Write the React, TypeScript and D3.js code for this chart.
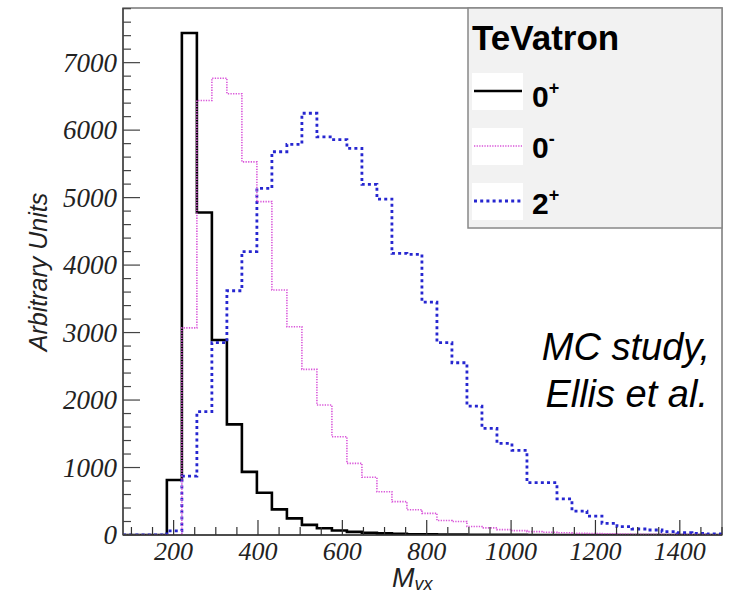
import React from "react";
import * as d3 from "d3";

// ---- data ----
const binStart = 184;
const binEnd = 1500;
const nBins = 37;

const zeroPlus = [815, 7440, 4780, 2890, 1640, 935, 627, 380, 247, 150, 99, 66, 46, 33, 24, 17, 12, 9, 7, 5, 4, 3, 2, 2, 1, 1, 1, 1, 0, 0, 0, 0, 0, 0, 0, 0, 0];
const zeroMinus = [0, 3070, 6440, 6770, 6540, 5530, 4940, 3630, 3086, 2455, 1926, 1456, 1062, 855, 642, 494, 375, 321, 215, 200, 125, 105, 80, 65, 50, 40, 33, 27, 22, 18, 15, 12, 10, 8, 6, 5, 4];
const twoPlus = [60, 874, 1827, 2850, 3620, 4200, 5136, 5680, 5790, 6250, 5900, 5860, 5730, 5195, 4978, 4173, 4160, 3450, 2850, 2553, 1911, 1580, 1358, 1255, 775, 775, 535, 355, 280, 173, 123, 89, 74, 49, 35, 25, 15];

const xTicks = [200, 400, 600, 800, 1000, 1200, 1400];
const yTicks = [0, 1000, 2000, 3000, 4000, 5000, 6000, 7000];
const xDomain = [80, 1500];
const yDomain = [0, 7810];

const seriesNames = ["0", "0", "2"];
const seriesSup = ["+", "-", "+"];
const legendTitle = "TeVatron";

export default function App() {
  const W = 729, H = 596;
  const left = 123, right = 722, top = 8, bottom = 535;
  const x = d3.scaleLinear().domain(xDomain).range([left, right]);
  const y = d3.scaleLinear().domain(yDomain).range([bottom, top]);
  const bw = (binEnd - binStart) / nBins;

  const stepPath = (vals: number[]) => {
    const pts: [number, number][] = [[xDomain[0], 0], [binStart, 0]];
    vals.forEach((v, i) => {
      pts.push([binStart + i * bw, v]);
      pts.push([binStart + (i + 1) * bw, v]);
    });
    const line = d3.line<[number, number]>().x((d) => x(d[0])).y((d) => y(d[1]));
    return line(pts) || "";
  };

  const xMinor = d3.range(100, 1501, 50);
  const yMinor = d3.range(0, 7801, 200);

  const serif = "'Liberation Serif', 'Times New Roman', serif";
  const sans = "'Liberation Sans', Arial, sans-serif";

  const legendRows = [
    { y: 91, stroke: "#000", width: 2.6, dash: undefined as string | undefined, base: 107 },
    { y: 146, stroke: "#d955d9", width: 1.6, dash: "1.3,1.3", base: 158 },
    { y: 201, stroke: "#2626d0", width: 2.8, dash: "3,3.2", base: 214 },
  ];

  return (
    <svg width={W} height={H} style={{ position: "absolute", left: 0, top: 0, background: "#fff" }}>
      <defs>
        <clipPath id="plotClip">
          <rect x={left} y={top} width={right - left} height={bottom - top} />
        </clipPath>
      </defs>
      <rect x={0} y={0} width={W} height={H} fill="#fff" />

      {/* frame */}
      <rect x={left} y={top} width={right - left} height={bottom - top} fill="none" stroke="#777" strokeWidth={1.5} />

      {/* histograms */}
      <g clipPath="url(#plotClip)">
        <path d={stepPath(zeroPlus)} fill="none" stroke="#000" strokeWidth={2.6} />
        <path d={stepPath(twoPlus)} fill="none" stroke="#2626d0" strokeWidth={2.8} strokeDasharray="3,3.2" />
        <path d={stepPath(zeroMinus)} fill="none" stroke="#d955d9" strokeWidth={1.6} strokeDasharray="1.3,1.3" />
      </g>

      {/* axes */}
      <line x1={left} x2={right} y1={bottom} y2={bottom} stroke="#333" strokeWidth={1.5} />
      <line x1={left} x2={left} y1={top} y2={bottom} stroke="#444" strokeWidth={1.5} />

      {xMinor.map((v) => (
        <line key={"xm" + v} x1={x(v)} x2={x(v)} y1={bottom} y2={bottom - (v % 200 === 0 ? 15 : 8)} stroke="#333" strokeWidth={1.2} />
      ))}
      {yMinor.map((v) => (
        <line key={"ym" + v} x1={left} x2={left + (v % 1000 === 0 ? 17 : 8)} y1={y(v)} y2={y(v)} stroke="#444" strokeWidth={1.2} />
      ))}

      {xTicks.map((v) => (
        <text key={"xt" + v} x={x(v)} y={560} textAnchor="middle" fontFamily={serif} fontStyle="italic" fontSize={26} fill="#222">
          {v}
        </text>
      ))}
      {yTicks.map((v) => (
        <text key={"yt" + v} x={117} y={y(v) + 9} textAnchor="end" fontFamily={serif} fontStyle="italic" fontSize={27} fill="#222">
          {v}
        </text>
      ))}

      {/* axis titles */}
      <text x={392} y={587} fontFamily={sans} fontStyle="italic" fontSize={27} fill="#222">
        M<tspan fontSize={18} dy={3}>vx</tspan>
      </text>
      <text transform="translate(47,272) rotate(-90)" textAnchor="middle" fontFamily={sans} fontStyle="italic" fontSize={25} fill="#222">
        Arbitrary Units
      </text>

      {/* legend */}
      <rect x={468} y={8} width={254} height={220} fill="#f2f2f2" stroke="#888" strokeWidth={1.5} />
      <text x={472} y={50} fontFamily={sans} fontWeight="bold" fontSize={35} fill="#000">
        {legendTitle}
      </text>
      {legendRows.map((r, i) => (
        <g key={"lg" + i}>
          <rect x={472} y={r.y - 18} width={51} height={37} fill="#fff" />
          <line x1={474} x2={522} y1={r.y} y2={r.y} stroke={r.stroke} strokeWidth={r.width} strokeDasharray={r.dash} />
          <text x={532} y={r.base} fontFamily={sans} fontWeight="bold" fontSize={30} fill="#000">
            {seriesNames[i]}
            <tspan fontSize={18} dy={-13}>{seriesSup[i]}</tspan>
          </text>
        </g>
      ))}

      {/* annotation */}
      <text x={710} y={360} textAnchor="end" fontFamily={sans} fontStyle="italic" fontSize={38} fill="#000">
        MC study,
      </text>
      <text x={708} y={407} textAnchor="end" fontFamily={sans} fontStyle="italic" fontSize={38} fill="#000">
        Ellis et al.
      </text>
    </svg>
  );
}
